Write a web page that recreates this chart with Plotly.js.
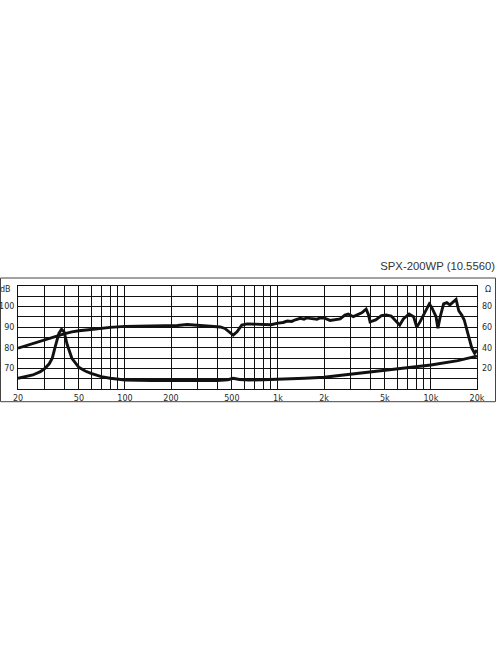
<!DOCTYPE html>
<html>
<head>
<meta charset="utf-8">
<script src="https://cdn.plot.ly/plotly-3.0.1.min.js"></script>
<style>html,body{margin:0;padding:0;background:#fff;}#chart{width:496px;height:664px;}</style>
</head>
<body>
<div id="chart"></div>
<script>
// Frequency response (SPL, dB)
const splFreq = [20,22,25,28,30,35,40,45,50,60,70,80,100,130,150,180,220,255,290,330,380,420,450,480,510,540,580,630,700,800,900,1000,1080,1150,1230,1300,1400,1480,1550,1620,1700,1800,1900,2000,2190,2360,2550,2740,2880,3110,3270,3530,3770,3910,4000,4350,4750,5100,5500,5950,6250,6600,7200,7700,8070,8500,9200,9750,10100,10800,11100,11500,12100,12700,13300,14000,14600,15200,15900,16500,17200,17800,18500,19300,20000];
const splDb = [79.8,80.8,82.0,83.3,84.1,85.6,86.8,87.7,88.3,88.9,89.5,89.9,90.4,90.6,90.6,90.9,90.8,91.3,91.0,90.6,90.5,90.1,89.4,87.6,86.2,87.8,91.0,91.6,91.4,91.3,91.2,92.0,92.3,93.0,92.8,93.6,94.3,93.9,94.6,94.3,94.2,93.9,94.6,94.5,93.3,93.5,94.0,95.9,96.4,95.1,95.9,97.0,98.8,95.9,92.6,93.5,95.6,95.9,95.4,92.7,91.0,94.0,96.4,95.1,90.0,92.7,97.5,101.3,99.7,95.1,89.5,95.1,101.3,101.9,100.8,102.4,103.5,98.0,95.9,93.5,88.6,83.8,79.8,77.3,78.9];

// Impedance (Ω)
const impFreq = [20,22,25,28,30,32,33.5,35,37,38.5,40,42,45,50,55,60,70,80,100,150,200,300,400,470,510,560,650,800,1000,1500,2000,3000,5000,7000,10000,15000,20000];
const impOhm = [10.4,11.8,13.6,16.8,20.1,24.5,30,41,54,58,55.6,42.7,29.8,21,17.5,15.2,12,10.4,8.7,8.3,8.2,8.0,8.2,9.0,10.4,9.2,8.7,9.0,9.4,10.4,11.4,14.3,17.8,20.1,23.3,27.5,32];

// Axis ticks
const freqGrid = [20,30,40,50,60,70,80,90,100,200,300,400,500,600,700,800,900,1000,2000,3000,4000,5000,6000,7000,8000,9000,10000,20000];
const freqLabels = {20:'20',50:'50',100:'100',200:'200',500:'500',1000:'1k',2000:'2k',5000:'5k',10000:'10k',20000:'20k'};
const dbGrid = [60,65,70,75,80,85,90,95,100,105,110];
const dbLabels = {70:'70',80:'80',90:'90',100:'100'};
const ohmTicks = [20,40,60,80];
const titleText = 'SPX-200WP (10.5560)';

const tickFont = {family:'DejaVu Sans, Verdana, sans-serif', size:8, color:'#2a2a2a'};
const curve = {color:'#111', width:2.9};

const traces = [
  {x: splFreq, y: splDb, type:'scatter', mode:'lines', line: curve, xaxis:'x', yaxis:'y', hoverinfo:'skip'},
  {x: impFreq, y: impOhm, type:'scatter', mode:'lines', line: curve, xaxis:'x', yaxis:'y2', hoverinfo:'skip'}
];

const layout = {
  width:496, height:664,
  margin:{l:18, r:19, t:286, b:275},
  paper_bgcolor:'#fff', plot_bgcolor:'#fff',
  showlegend:false,
  font: tickFont,
  title:{text:titleText, xref:'container', yref:'container', x:495/496, xanchor:'right', y:1-266/664, yanchor:'middle',
         font:{family:'Liberation Sans, Arial, sans-serif', size:11.3, color:'#333'}},
  xaxis:{type:'log', range:[Math.log10(20), Math.log10(20000)], tickvals:freqGrid,
         ticktext:freqGrid.map(v => freqLabels[v] || ''), showgrid:true, gridcolor:'#111', gridwidth:1,
         ticks:'', zeroline:false, showline:true, linecolor:'#111', linewidth:1, mirror:true,
         tickfont:tickFont, ticklabelstandoff:1, fixedrange:true},
  yaxis:{range:[60,110], tickvals:dbGrid, ticktext:dbGrid.map(v => dbLabels[v] || ''),
         showgrid:true, gridcolor:'#111', gridwidth:1, ticks:'', zeroline:false,
         showline:true, linecolor:'#111', linewidth:1, mirror:true, tickfont:tickFont, ticklabelstandoff:1, fixedrange:true},
  yaxis2:{range:[0,100], overlaying:'y', side:'right', tickvals:ohmTicks, ticktext:ohmTicks.map(String),
          showgrid:false, ticks:'', zeroline:false, tickfont:tickFont, ticklabelstandoff:4, fixedrange:true},
  annotations:[
    {text:'dB', xref:'paper', yref:'paper', x:(13-18)/459, y:(389-289.5)/103, xanchor:'right', yanchor:'middle', showarrow:false, font:tickFont},
    {text:'Ω', xref:'paper', yref:'paper', x:(483-18)/459, y:(389-289.5)/103, xanchor:'left', yanchor:'middle', showarrow:false, font:tickFont}
  ],
  shapes:[
    {type:'rect', xref:'paper', yref:'paper', x0:(0.5-18)/459, x1:(495.5-18)/459, y0:(389-401.7)/103, y1:(389-278)/103,
     line:{color:'#444', width:1}, fillcolor:'rgba(0,0,0,0)', layer:'below'}
  ]
};

Plotly.newPlot('chart', traces, layout, {displayModeBar:false, staticPlot:true});
</script>
</body>
</html>
